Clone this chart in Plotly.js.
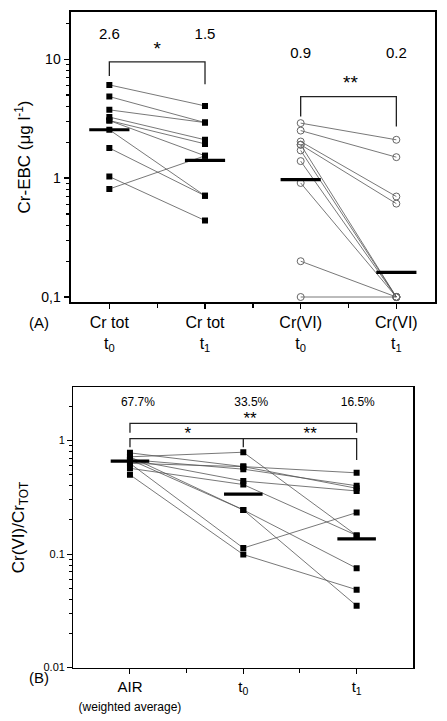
<!DOCTYPE html>
<html>
<head>
<meta charset="utf-8">
<script src="https://cdn.plot.ly/plotly-3.0.1.min.js"></script>
<style>html,body{margin:0;padding:0;background:#fff;}#chart{width:447px;height:721px;}</style>
</head>
<body>
<div id="chart"></div>
<script>
// ---------- Panel A data ----------
const catPosA = [1, 2, 3, 4];
const catLabelsA = ["Cr tot<br>t<sub>0</sub>", "Cr tot<br>t<sub>1</sub>", "Cr(VI)<br>t<sub>0</sub>", "Cr(VI)<br>t<sub>1</sub>"];
const crTotT0 = [6.08, 4.85, 3.75, 3.26, 3.05, 3.05, 2.55, 1.79, 1.03, 0.81];
const crTotT1 = [4.05, 2.93, 2.93, 2.10, 1.94, 1.54, 0.71, 0.71, 0.44, 1.54];
const crVIT0 = [2.90, 2.51, 2.03, 1.91, 1.91, 1.71, 1.39, 0.91, 0.20, 0.10];
const crVIT1 = [2.10, 1.50, 0.70, 0.61, 0.10, 0.10, 0.10, 0.10, 0.10, 0.10];
const meansA = [2.55, 1.41, 0.97, 0.161];
const meanLabelsA = ["2.6", "1.5", "0.9", "0.2"];
const meanLabelYA = [16.0, 16.0, 11.1, 11.1];
const yTickValsA = [0.1, 1, 10];
const yTickTextA = ["0,1", "1", "10"];
const bracketA1 = {x: [1, 1, 2, 2], y: [7.24, 9.5, 9.5, 6.17]};
const bracketA2 = {x: [3, 3, 4, 4], y: [3.29, 4.85, 4.85, 2.71]};
const starsA = {x: [1.5, 3.52], y: [12.0, 6.2], t: ["*", "**"]};

// ---------- Panel B data ----------
const catPosB = [1, 2, 3];
const catLabelsB = ["AIR<br><span style='font-size:12px'>(weighted average)</span>", "t<sub>0</sub>", "t<sub>1</sub>"];
const ratioAir = [0.72, 0.78, 0.68, 0.63, 0.68, 0.57, 0.72, 0.68, 0.63, 0.50];
const ratioT0  = [0.79, 0.59, 0.56, 0.59, 0.44, 0.41, 0.245, 0.245, 0.113, 0.099];
const ratioT1  = [0.146, 0.52, 0.40, 0.38, 0.36, 0.146, 0.075, 0.035, 0.232, 0.0485];
const meansB = [0.66, 0.337, 0.136];
const meanLabelsB = ["67.7%", "33.5%", "16.5%"];
const meanLabelXB = [1.07, 2.07, 3.01];
const meanLabelYB = 2.16;
const yTickValsB = [0.01, 0.1, 1];
const yTickTextB = ["0.01", "0.1", "1"];
const bracketB1 = {x: [1, 1, 3, 3], y: [1.175, 1.42, 1.42, 1.175]};
const bracketB2 = {x: [1, 1, 3, 3], y: [0.875, 1.04, 1.04, 0.676]};
const bracketB2mid = {x: [2, 2], y: [1.04, 0.875]};
const starsB = {x: [2.06, 1.51, 2.59], y: [1.52, 1.12, 1.12], t: ["**", "*", "**"]};

// ---------- build ----------
const FONT = "Arial, 'Liberation Sans', sans-serif";
const lineColor = "#555";
const traces = [];

function pairLines(a, b, xa, xb, xaxis, yaxis) {
  const xs = [], ys = [];
  for (let i = 0; i < a.length; i++) { xs.push(xa, xb, null); ys.push(a[i], b[i], null); }
  return {x: xs, y: ys, xaxis, yaxis, mode: "lines", line: {color: lineColor, width: 0.8}, hoverinfo: "skip", showlegend: false};
}
function meanBars(pos, means, half, xaxis, yaxis) {
  const xs = [], ys = [];
  for (let i = 0; i < pos.length; i++) { xs.push(pos[i] - half, pos[i] + half, null); ys.push(means[i], means[i], null); }
  return {x: xs, y: ys, xaxis, yaxis, mode: "lines", line: {color: "#000", width: 3.2}, showlegend: false, hoverinfo: "skip"};
}
function pts(pos, vals, sym, xaxis, yaxis) {
  return {x: vals.map(() => pos), y: vals, xaxis, yaxis, mode: "markers", showlegend: false,
    marker: sym === "sq" ? {symbol: "square", size: 6, color: "#000"} : {symbol: "circle-open", size: 7, color: "#666", line: {width: 1, color: "#666"}}};
}
function bracket(b, xaxis, yaxis) {
  return {x: b.x, y: b.y, xaxis, yaxis, mode: "lines", line: {color: "#222", width: 1.3}, showlegend: false, hoverinfo: "skip"};
}

// Panel A
traces.push(pairLines(crTotT0, crTotT1, catPosA[0], catPosA[1], "x", "y"));
traces.push(pairLines(crVIT0, crVIT1, catPosA[2], catPosA[3], "x", "y"));
traces.push(pts(catPosA[0], crTotT0, "sq", "x", "y"));
traces.push(pts(catPosA[1], crTotT1, "sq", "x", "y"));
traces.push(pts(catPosA[2], crVIT0, "ci", "x", "y"));
traces.push(pts(catPosA[3], crVIT1, "ci", "x", "y"));
traces.push(meanBars(catPosA, meansA, 0.21, "x", "y"));
traces.push(bracket(bracketA1, "x", "y"));
traces.push(bracket(bracketA2, "x", "y"));
traces.push({x: catPosA, y: meanLabelYA, text: meanLabelsA, mode: "text", xaxis: "x", yaxis: "y",
  textfont: {family: FONT, size: 15, color: "#000"}, showlegend: false, hoverinfo: "skip"});
traces.push({x: starsA.x, y: starsA.y, text: starsA.t, mode: "text", xaxis: "x", yaxis: "y",
  textfont: {family: FONT, size: 19, color: "#000"}, showlegend: false, hoverinfo: "skip"});

// Panel B
traces.push(pairLines(ratioAir, ratioT0, catPosB[0], catPosB[1], "x2", "y2"));
traces.push(pairLines(ratioT0, ratioT1, catPosB[1], catPosB[2], "x2", "y2"));
traces.push(pts(catPosB[0], ratioAir, "sq", "x2", "y2"));
traces.push(pts(catPosB[1], ratioT0, "sq", "x2", "y2"));
traces.push(pts(catPosB[2], ratioT1, "sq", "x2", "y2"));
traces.push(meanBars(catPosB, meansB, 0.17, "x2", "y2"));
traces.push(bracket(bracketB1, "x2", "y2"));
traces.push(bracket(bracketB2, "x2", "y2"));
traces.push(bracket(bracketB2mid, "x2", "y2"));
traces.push({x: meanLabelXB, y: meanLabelsB.map(() => meanLabelYB), text: meanLabelsB, mode: "text", xaxis: "x2", yaxis: "y2",
  textfont: {family: FONT, size: 12, color: "#000"}, showlegend: false, hoverinfo: "skip"});
traces.push({x: starsB.x, y: starsB.y, text: starsB.t, mode: "text", xaxis: "x2", yaxis: "y2",
  textfont: {family: FONT, size: 17, color: "#000"}, showlegend: false, hoverinfo: "skip"});

const minorLog = (lo, hi) => { const v = []; for (let e = lo; e < hi; e++) for (let d = 2; d <= 9; d++) v.push(d * Math.pow(10, e)); return v; };

const layout = {
  width: 447, height: 721,
  margin: {l: 0, r: 0, t: 0, b: 0},
  paper_bgcolor: "#fff", plot_bgcolor: "#fff",
  font: {family: FONT, color: "#000"},
  showlegend: false,
  xaxis: {
    domain: [70.5 / 447, 435 / 447], range: [0.594, 4.404],
    tickmode: "array", tickvals: catPosA, ticktext: catLabelsA,
    ticks: "outside", ticklen: 5, tickwidth: 1.3, tickcolor: "#000",
    minor: {tickmode: "array", tickvals: [1.5, 2.5, 3.5], ticks: "outside", ticklen: 4, tickcolor: "#000", showgrid: false},
    tickfont: {family: FONT, size: 16},
    showline: true, linewidth: 2, linecolor: "#000", mirror: true,
    showgrid: false, zeroline: false, anchor: "y", automargin: false
  },
  yaxis: {
    domain: [1 - 302 / 721, 1 - 12 / 721], type: "log", range: [-1.042, 1.397],
    tickmode: "array", tickvals: yTickValsA, ticktext: yTickTextA,
    ticks: "outside", ticklen: 5, tickwidth: 1.3, tickcolor: "#000",
    minor: {tickmode: "array", tickvals: minorLog(-1, 2), ticks: "outside", ticklen: 3, tickcolor: "#000", showgrid: false},
    tickfont: {family: FONT, size: 14},
    title: {text: "Cr-EBC (μg l<sup>-1</sup>)", font: {family: FONT, size: 17}, standoff: 6},
    showline: true, linewidth: 2, linecolor: "#000", mirror: true,
    showgrid: false, zeroline: false, anchor: "x", automargin: false
  },
  xaxis2: {
    domain: [73.3 / 447, 413.3 / 447], range: [0.5, 3.5],
    tickmode: "array", tickvals: catPosB, ticktext: catLabelsB,
    ticks: "outside", ticklen: 5, tickwidth: 1, tickcolor: "#000",
    minor: {tickmode: "array", tickvals: [1.5, 2.5], ticks: "outside", ticklen: 4, tickcolor: "#000", showgrid: false},
    tickfont: {family: FONT, size: 15},
    showline: true, linewidth: 1.2, linecolor: "#000", mirror: true,
    showgrid: false, zeroline: false, anchor: "y2", automargin: false
  },
  yaxis2: {
    domain: [1 - 667.5 / 721, 1 - 387.3 / 721], type: "log", range: [-2, 0.47],
    tickmode: "array", tickvals: yTickValsB, ticktext: yTickTextB,
    ticks: "outside", ticklen: 5, tickwidth: 1, tickcolor: "#000",
    minor: {tickmode: "array", tickvals: minorLog(-2, 1), ticks: "outside", ticklen: 3, tickcolor: "#000", showgrid: false},
    tickfont: {family: FONT, size: 11},
    title: {text: "Cr(VI)/Cr<sub>TOT</sub>", font: {family: FONT, size: 17}, standoff: 14},
    showline: true, linewidth: 1.2, linecolor: "#000", mirror: true,
    showgrid: false, zeroline: false, anchor: "x2", automargin: false
  },
  annotations: [
    {text: "(A)", xref: "paper", yref: "paper", x: 27 / 447, y: 1 - 322 / 721, showarrow: false, font: {family: FONT, size: 15}},
    {text: "(B)", xref: "paper", yref: "paper", x: 27 / 447, y: 1 - 688 / 721, showarrow: false, font: {family: FONT, size: 15}}
  ]
};

Plotly.newPlot("chart", traces, layout, {displayModeBar: false, staticPlot: true});
</script>
</body>
</html>
